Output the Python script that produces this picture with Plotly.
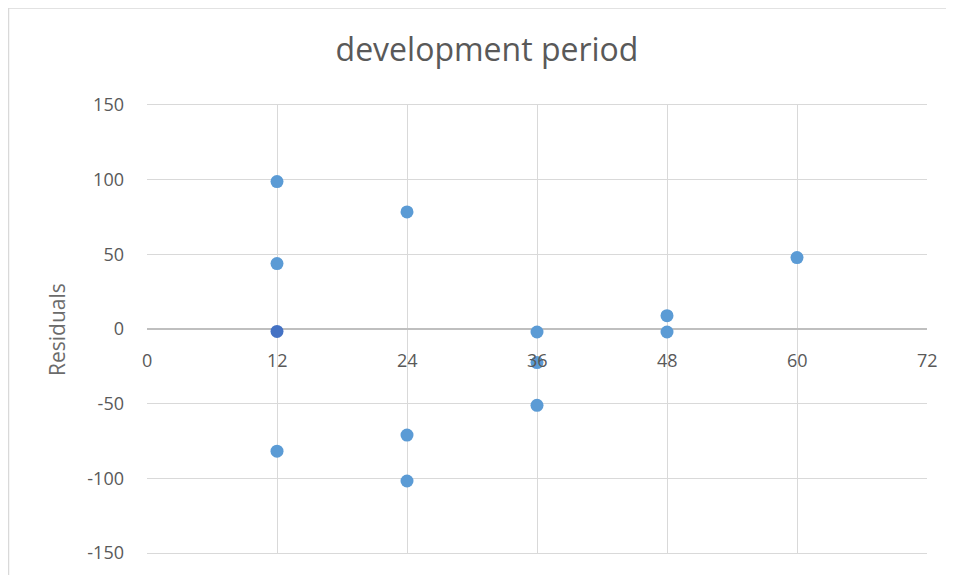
import plotly.graph_objects as go

# Data
period = [12, 12, 12, 24, 24, 24, 36, 36, 36, 48, 48, 60]
residual = [98.7, 43.8, -81.8, 78.4, -71.0, -101.8, -2.0, -22.5, -51.1, 8.9, -2.0, 47.8]
period_dark = [12]
residual_dark = [-1.6]

x_ticks = [0, 12, 24, 36, 48, 60, 72]
x_tick_labels = ["0", "12", "24", "36", "48", "60", "72"]
y_ticks = [-150, -100, -50, 0, 50, 100, 150]
y_tick_labels = ["-150", "-100", "-50", "0", "50", "100", "150"]

# page body has an 8px margin, so the figure is sized to fit the window
W, H = 946, 567
L, R, T, B = 139, 27, 97, 22
FONT = "Open Sans"
GRAY = "#595959"

fig = go.Figure()
fig.add_trace(go.Scatter(
    x=period, y=residual, mode="markers",
    marker=dict(size=13, color="#5B9BD5", line=dict(width=0)),
    showlegend=False, cliponaxis=False,
))
fig.add_trace(go.Scatter(
    x=period_dark, y=residual_dark, mode="markers",
    marker=dict(size=13, color="#4472C4", line=dict(width=0)),
    showlegend=False, cliponaxis=False,
))

plot_w = W - L - R
plot_h = H - T - B
px_x = lambda p: (p - L) / plot_w
px_y = lambda p: (H - B - p) / plot_h

annotations = []
for v, t in zip(x_ticks, x_tick_labels):
    annotations.append(dict(
        x=v, y=0, xref="x", yref="y", text=t, showarrow=False,
        yanchor="top", yshift=-17, font=dict(family=FONT, size=18, color=GRAY),
    ))
annotations.append(dict(
    x=px_x(49), y=px_y(322), xref="paper", yref="paper", text="Residuals",
    showarrow=False, textangle=-90, xanchor="center", yanchor="middle",
    font=dict(family=FONT, size=21, color="#6b6b6b"),
))

shapes = [
    dict(type="line", xref="paper", yref="paper",
         x0=px_x(0.5), x1=px_x(0.5), y0=px_y(H + 5), y1=px_y(0),
         line=dict(color="#d9d9d9", width=1.5)),
    dict(type="line", xref="paper", yref="paper",
         x0=px_x(0), x1=px_x(W + 5), y0=px_y(0), y1=px_y(0),
         line=dict(color="#d9d9d9", width=1.5)),
]

fig.update_layout(
    width=W, height=H,
    margin=dict(l=L, r=R, t=T, b=B),
    paper_bgcolor="white", plot_bgcolor="white",
    title=dict(text="development period", x=479 / W,
               xanchor="center", xref="container",
               y=1 - 42 / H, yanchor="middle",
               font=dict(family=FONT, size=32, color=GRAY)),
    xaxis=dict(range=[0, 72], tickvals=x_ticks, showticklabels=False,
               showgrid=True, gridcolor="#d9d9d9", gridwidth=1,
               zeroline=False, showline=True, linecolor="#d9d9d9", mirror=True,
               fixedrange=True),
    yaxis=dict(range=[-150, 150], tickvals=y_ticks, ticktext=y_tick_labels,
               showgrid=True, gridcolor="#d9d9d9", gridwidth=1,
               zeroline=True, zerolinecolor="#bfbfbf", zerolinewidth=1.5,
               showline=False, ticks="", ticklabelstandoff=22,
               tickfont=dict(family=FONT, size=18, color=GRAY),
               fixedrange=True),
    annotations=annotations,
    shapes=shapes,
)

fig.write_html("out.html")
